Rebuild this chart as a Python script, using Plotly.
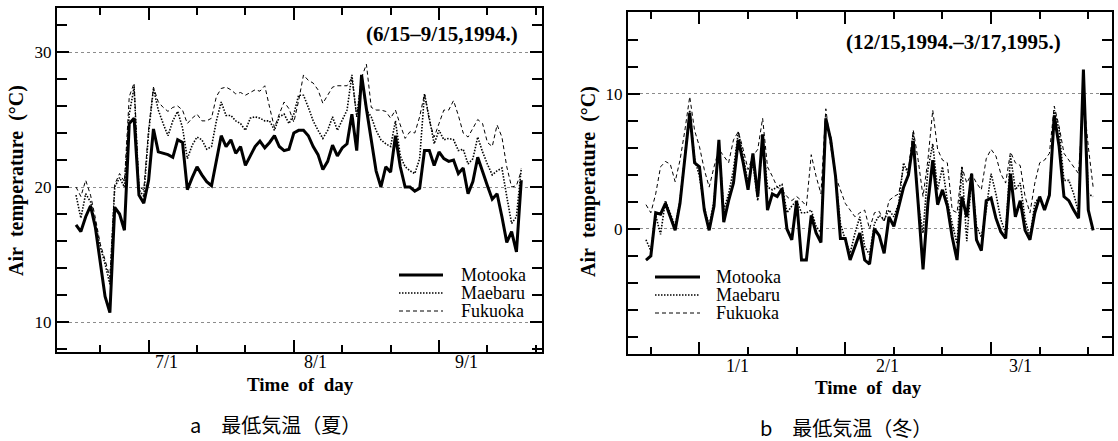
import pandas as pd
import plotly.graph_objects as go

W, H = 1118, 441

# ---------------- data ----------------
summer_dates = pd.date_range("1994-06-15", "1994-09-15", freq="D")
winter_dates = pd.date_range("1994-12-15", "1995-03-17", freq="D")

summer_motooka = [
    17.2, 16.7, 17.8, 18.6, 17.0, 14.3, 11.9, 10.7, 18.5, 18.0, 16.8, 24.7, 25.1, 19.4, 18.8, 20.5,
    24.3, 22.6, 22.5, 22.4, 22.2, 23.5, 23.3, 19.8, 20.7, 21.5, 20.9, 20.4, 20.1, 22.1, 23.8, 23.0,
    23.5, 22.5, 23.0, 21.6, 22.3, 23.0, 23.4, 22.9, 23.3, 23.8, 23.0, 22.7, 22.8, 24.0, 24.2, 24.2,
    23.8, 23.0, 22.4, 21.3, 21.9, 23.1, 22.3, 22.9, 23.2, 25.4, 22.7, 28.3, 25.8, 23.5, 21.2, 20.0,
    21.5, 21.1, 23.8, 21.5, 20.0, 20.0, 19.7, 19.9, 22.7, 22.7, 21.6, 22.6, 22.1, 21.9, 22.0, 21.0,
    21.4, 19.5, 20.4, 22.2, 21.1, 20.1, 19.1, 19.5, 17.8, 15.9, 16.7, 15.2, 20.5]
summer_maebaru = [
    19.4, 17.7, 19.5, 18.9, 17.3, 15.6, 14.3, 12.8, 20.0, 20.7, 20.0, 25.4, 27.4, 19.8, 19.3, 24.0,
    27.3, 25.7, 24.7, 23.8, 24.9, 25.6, 24.4, 22.1, 23.1, 23.7, 23.5, 22.8, 23.0, 24.9, 26.3, 25.3,
    25.3, 24.9, 24.7, 24.2, 25.1, 25.2, 25.1, 24.9, 24.9, 24.2, 25.2, 25.4, 24.7, 25.4, 26.8, 26.8,
    25.9, 24.9, 24.2, 23.6, 24.2, 25.2, 24.2, 24.9, 25.7, 28.3, 25.2, 28.1, 25.7, 25.2, 24.2, 23.5,
    23.2, 23.0, 24.9, 22.3, 21.5, 21.2, 21.0, 22.1, 26.9, 25.1, 23.2, 24.2, 23.5, 23.6, 23.5, 22.7,
    22.8, 21.7, 22.1, 23.7, 22.6, 21.7, 20.9, 21.2, 21.4, 19.3, 17.3, 17.8, 21.4]
summer_fukuoka = [
    20.0, 19.3, 20.5, 19.4, 17.7, 15.8, 14.6, 13.3, 20.2, 21.0, 20.4, 26.7, 27.7, 20.0, 19.8, 24.3,
    27.4, 26.3, 25.9, 25.6, 25.9, 26.0, 25.7, 24.7, 25.1, 25.4, 24.9, 24.9, 25.1, 26.7, 27.3, 27.4,
    27.2, 26.9, 27.0, 26.8, 27.0, 27.2, 27.1, 27.5, 25.9, 24.4, 25.4, 26.3, 25.8, 24.8, 26.4, 28.3,
    27.9, 27.7, 27.2, 26.2, 26.8, 27.4, 27.5, 27.5, 27.5, 28.1, 25.2, 28.1, 29.1, 25.9, 25.7, 25.7,
    25.6, 25.1, 25.7, 24.6, 23.6, 24.1, 24.0, 25.2, 26.9, 24.9, 23.7, 24.7, 25.7, 25.7, 26.4, 25.3,
    24.0, 23.7, 24.4, 25.0, 24.7, 23.3, 23.0, 24.6, 23.7, 21.5, 20.0, 20.1, 21.2]

winter_motooka = [
    -2.3, -2.0, 1.2, 1.1, 1.9, 0.9, -0.1, 1.9, 5.1, 8.6, 4.9, 4.6, 1.4, -0.1, 1.7, 6.6,
    0.5, 2.1, 3.4, 6.6, 4.9, 2.9, 5.6, 2.4, 7.0, 1.4, 2.6, 2.4, 3.0, 0.0, -0.8, 2.1,
    -2.3, -2.3, 1.0, -0.3, -1.0, 8.2, 6.6, 3.9, -0.7, -0.7, -2.3, -1.3, -0.3, -2.3, -2.6, 0.0,
    -0.5, -1.8, 0.9, 0.2, 1.7, 3.1, 4.0, 6.5, 1.9, -3.0, 1.9, 5.1, 1.8, 2.9, 1.7, -0.6,
    -2.3, 2.4, 0.9, 4.1, -0.8, -1.6, 2.1, 2.3, 0.8, -0.2, -0.7, 4.1, 0.9, 2.1, -0.1, -0.8,
    1.2, 2.4, 1.4, 2.5, 8.4, 6.1, 2.4, 2.1, 1.4, 0.8, 11.8, 1.4, -0.1]
winter_maebaru = [
    -0.8, -1.6, 1.0, -0.4, 2.1, 1.2, 0.2, 2.1, 5.4, 8.8, 5.2, 3.9, 1.6, 0.2, 2.1, 6.3,
    1.4, 2.6, 4.4, 7.2, 5.4, 3.4, 4.9, 2.1, 6.8, 3.1, 2.9, 3.1, 3.3, 1.2, 1.7, 2.1,
    1.2, 1.2, 1.4, 0.2, -0.3, 8.0, 6.8, 3.9, 0.4, -0.8, -1.8, -0.3, 0.9, -1.3, -1.9, 0.4,
    1.0, 0.7, 1.4, 0.9, 1.9, 4.9, 4.0, 7.2, 1.9, -0.3, 4.4, 6.3, 2.9, 4.6, 2.1, 0.4,
    -1.1, 4.6, -0.9, 3.9, 0.2, -0.6, 1.4, 4.1, 2.6, 0.7, -0.3, 5.4, 2.9, 3.4, 0.7, -0.6,
    1.9, 2.4, 1.4, 2.6, 8.8, 7.3, 3.6, 3.6, 2.6, 1.2, 11.5, 2.6, 2.4]
winter_fukuoka = [
    1.8, 1.2, 2.6, 4.6, 5.0, 4.8, 3.5, 5.1, 7.3, 9.8, 7.3, 6.1, 4.4, 3.1, 4.6, 5.9,
    5.4, 4.9, 6.6, 7.2, 5.9, 4.4, 5.4, 5.9, 8.2, 4.6, 3.9, 3.1, 2.9, 2.4, 2.1, 2.4,
    2.1, 1.7, 5.5, 3.9, 2.6, 8.9, 6.1, 3.9, 2.9, 1.9, 1.4, 0.9, 1.2, 1.4, 0.0, 1.2,
    1.3, 0.5, 2.1, 2.4, 2.6, 4.6, 4.4, 7.3, 5.1, 2.4, 5.1, 8.8, 5.9, 5.1, 4.9, 1.4,
    1.2, 4.6, 3.4, 4.1, 3.4, 2.9, 5.2, 5.9, 5.4, 4.1, 3.4, 5.7, 4.9, 4.7, 2.4, 1.2,
    3.4, 4.9, 5.1, 5.6, 9.1, 7.6, 5.6, 5.1, 4.6, 4.1, 9.8, 6.1, 3.1]

series_names = ["Motooka", "Maebaru", "Fukuoka"]
summer_title = "(6/15\u20139/15,1994.)"
winter_title = "(12/15,1994.\u20133/17,1995.)"
summer_xlabels = ["7/1", "8/1", "9/1"]
winter_xlabels = ["1/1", "2/1", "3/1"]
summer_major_ticks = ["1994-06-30", "1994-07-30", "1994-08-29"]
summer_minor_ticks = ["1994-06-20", "1994-07-10", "1994-07-20", "1994-08-09", "1994-08-19",
                      "1994-09-08", "1994-09-18"]
winter_major_ticks = ["1994-12-26", "1995-01-25", "1995-02-24"]
winter_minor_ticks = ["1994-12-16", "1995-01-05", "1995-01-15", "1995-02-04", "1995-02-14",
                      "1995-03-06", "1995-03-16"]
captions = ["a\u3000最低気温（夏）", "b\u3000最低気温（冬）"]

# ---------------- helpers ----------------
def px(x):
    return x / W

def py(y):
    return 1 - y / H

def drange(start, a, b):
    t0 = pd.Timestamp(start)
    return [(t0 + pd.Timedelta(days=a)).strftime("%Y-%m-%d %H:%M:%S"),
            (t0 + pd.Timedelta(days=b)).strftime("%Y-%m-%d %H:%M:%S")]

SERIF = "Liberation Serif"
CJK = "Noto Sans CJK JP"
styles = {
    "Motooka": dict(color="black", width=3.0, dash="solid"),
    "Maebaru": dict(color="black", width=1.6, dash="1.5px,1.5px"),
    "Fukuoka": dict(color="black", width=1.0, dash="4px,3px"),
}

fig = go.Figure()
panels = [
    ("x", "y", summer_dates, dict(zip(series_names, [summer_motooka, summer_maebaru, summer_fukuoka]))),
    ("x2", "y2", winter_dates, dict(zip(series_names, [winter_motooka, winter_maebaru, winter_fukuoka]))),
]
for xa, ya, dates, data in panels:
    for name in ["Fukuoka", "Maebaru", "Motooka"]:
        fig.add_trace(go.Scatter(x=dates, y=data[name], mode="lines", name=name,
                                 line=styles[name], xaxis=xa, yaxis=ya, showlegend=False))

def xaxis_cfg(domain, rng, major, minor, anchor):
    return dict(domain=domain, range=rng, type="date", anchor=anchor, showline=True, linewidth=2,
                linecolor="black", mirror="ticks", ticks="inside", tickvals=major,
                ticklen=12, tickwidth=1.5, tickcolor="black", showticklabels=False,
                showgrid=False, zeroline=False, fixedrange=True,
                minor=dict(tickvals=minor, ticks="inside", ticklen=7, tickwidth=1.5,
                           tickcolor="black", showgrid=False))

def yaxis_cfg(domain, rng, vals, anchor):
    return dict(domain=domain, range=rng, anchor=anchor, showline=True, linewidth=2, linecolor="black",
                mirror="ticks", ticks="inside", tickvals=vals, ticklen=12, tickwidth=1.5,
                tickcolor="black", showgrid=True, gridcolor="#8c8c8c", griddash="dot",
                gridwidth=1, zeroline=False, tickfont=dict(family=SERIF, size=17, color="black"),
                fixedrange=True,
                minor=dict(dtick=2, tick0=0, ticks="inside", ticklen=10, tickwidth=1.5,
                           tickcolor="black", showgrid=False))

fig.update_layout(
    width=W, height=H, margin=dict(l=0, r=0, t=0, b=0),
    paper_bgcolor="white", plot_bgcolor="white", showlegend=False,
    xaxis=xaxis_cfg([px(57), px(542)], drange("1994-06-15", -3.93, 96.28),
                    summer_major_ticks, summer_minor_ticks, "y"),
    yaxis=yaxis_cfg([py(352), py(8)], [7.78, 33.26], [10, 20, 30], "x"),
    xaxis2=xaxis_cfg([px(628), px(1112)], drange("1994-12-15", -3.70, 95.88),
                     winter_major_ticks, winter_minor_ticks, "y2"),
    yaxis2=yaxis_cfg([py(354), py(12)], [-9.26, 16.07], [0, 10], "x2"),
)

ann = []
def text(x, y, s, size, family=SERIF, bold=False, xanchor="center", angle=0):
    ann.append(dict(xref="paper", yref="paper", x=px(x), y=py(y), text=f"<b>{s}</b>" if bold else s,
                    showarrow=False, xanchor=xanchor, yanchor="middle", textangle=angle,
                    font=dict(family=family, size=size, color="black")))

# x tick labels
for lab, xp in zip(summer_xlabels, [166, 315, 466]):
    text(xp, 362, lab, 18)
for lab, xp in zip(winter_xlabels, [737, 887, 1020]):
    text(xp, 366, lab, 18)

# axis titles
text(300, 384, "Time\u00a0 of\u00a0 day", 19, bold=True)
text(868, 387, "Time\u00a0 of\u00a0 day", 19, bold=True)
text(17, 181, "Air\u00a0 temperature\u00a0 (°C)", 20, bold=True, angle=-90)
text(588, 182, "Air\u00a0 temperature\u00a0 (°C)", 20, bold=True, angle=-90)

# period titles
text(520, 34, summer_title, 21, bold=True, xanchor="right")
text(1063, 42, winter_title, 21, bold=True, xanchor="right")

# captions
text(275, 424, captions[0], 20, family=CJK)
text(846, 427, captions[1], 20, family=CJK)

# legends
shapes = []
for (x0, x1, tx, ys) in [(399, 443, 459, [275, 293, 311]), (655, 700, 714, [277, 295, 313])]:
    for name, yy in zip(series_names, ys):
        st = styles[name]
        shapes.append(dict(type="line", xref="paper", yref="paper", x0=px(x0), x1=px(x1),
                           y0=py(yy), y1=py(yy), line=dict(color="black", width=st["width"], dash=st["dash"])))
        text(tx, yy, name, 18, xanchor="left")

fig.update_layout(annotations=ann, shapes=shapes)
fig.write_html("out.html")
